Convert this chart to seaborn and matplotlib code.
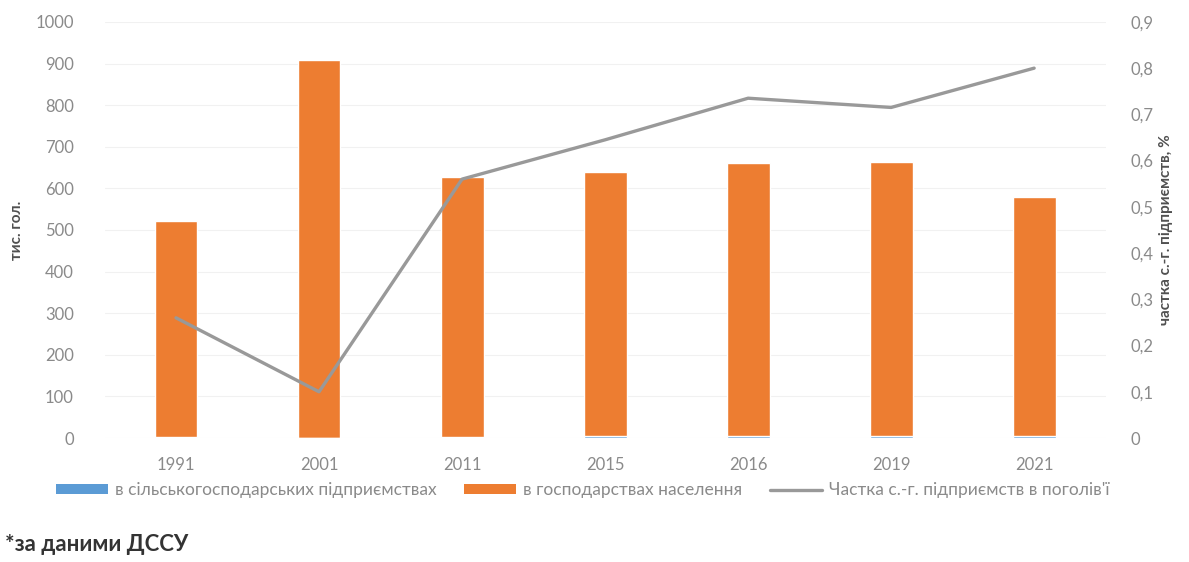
import numpy as np
import pandas as pd
import matplotlib
matplotlib.use("Agg")
import matplotlib.pyplot as plt
from matplotlib.ticker import FuncFormatter, MultipleLocator
from matplotlib.patches import Patch
from matplotlib.lines import Line2D
import seaborn as sns

# ---- data ----
years = ["1991", "2001", "2011", "2015", "2016", "2019", "2021"]
enterprises = [1.4, 0.9, 3.5, 4.2, 4.9, 4.8, 4.7]          # тис. гол.
households = [519, 908, 625, 636, 655, 659, 575]            # тис. гол.
share = [0.26, 0.10, 0.56, 0.645, 0.735, 0.715, 0.80]       # %

legend_labels = ["в сільськогосподарських підприємствах",
                 "в господарствах населення",
                 "Частка с.-г. підприємств в поголів'ї"]
left_label = "тис. гол."
right_label = "частка с.-г. підприємств, %"
footnote = "*за даними ДССУ"

BLUE = "#5B9BD5"
ORANGE = "#ED7D31"
GREY_LINE = "#999999"
TICK_C = "#8a8a8a"
LABEL_C = "#505050"

sns.set_theme(style="white")
plt.rcParams["font.family"] = ["Lato", "DejaVu Sans"]

df = pd.DataFrame({"year": years, "ent": enterprises, "hh": households, "share": share})
df["total"] = df["ent"] + df["hh"]

fig = plt.figure(figsize=(11.89, 5.62), dpi=100)
ax = fig.add_axes([0.0879, 0.2206, 0.842, 0.7404])

sns.barplot(data=df, x="year", y="total", color=ORANGE, width=0.3,
            saturation=1, ax=ax, zorder=2)
sns.barplot(data=df, x="year", y="ent", color=BLUE, width=0.3,
            saturation=1, ax=ax, zorder=3)

ax.set_ylim(0, 1000)
ax.yaxis.set_major_locator(MultipleLocator(100))
ax.grid(axis="y", color="#f1f1f1", linewidth=0.8, zorder=0)
ax.set_axisbelow(True)
ax.set_xlabel("")
ax.set_ylabel(left_label, fontsize=11, color=LABEL_C, labelpad=8,
              fontweight="bold")
ax.tick_params(axis="both", labelsize=12, colors=TICK_C, length=0)
ax.tick_params(axis="x", pad=14)
ax.tick_params(axis="y", pad=22)
for s in ax.spines.values():
    s.set_visible(False)

ax2 = ax.twinx()
sns.lineplot(x=np.arange(len(years)), y=df["share"], ax=ax2,
             color=GREY_LINE, linewidth=2.4, zorder=4)
ax2.set_ylim(0, 0.9)
ax2.yaxis.set_major_locator(MultipleLocator(0.1))
ax2.yaxis.set_major_formatter(FuncFormatter(
    lambda v, p: "0" if abs(v) < 1e-9 else f"{v:.1f}".replace(".", ",")))
ax2.set_ylabel(right_label, fontsize=11, color=LABEL_C, labelpad=4,
               fontweight="bold")
ax2.tick_params(axis="y", labelsize=12, colors=TICK_C, length=0, pad=18)
ax2.grid(False)
for s in ax2.spines.values():
    s.set_visible(False)
ax.set_xlim(-0.5, len(years) - 0.5)

handles = [Patch(facecolor=BLUE, edgecolor="none"),
           Patch(facecolor=ORANGE, edgecolor="none"),
           Line2D([0], [0], color=GREY_LINE, linewidth=2.4)]
fig.legend(handles, legend_labels, loc="center", bbox_to_anchor=(0.49, 0.128),
           ncol=3, frameon=False, fontsize=12.5, labelcolor=TICK_C,
           handlelength=3, handleheight=0.5, columnspacing=1.6, handletextpad=0.4)

fig.text(0.004, 0.012, footnote, fontsize=16, fontweight="bold", color="#333333",
         ha="left", va="bottom")

fig.savefig("out.png", dpi=100, facecolor="white")
